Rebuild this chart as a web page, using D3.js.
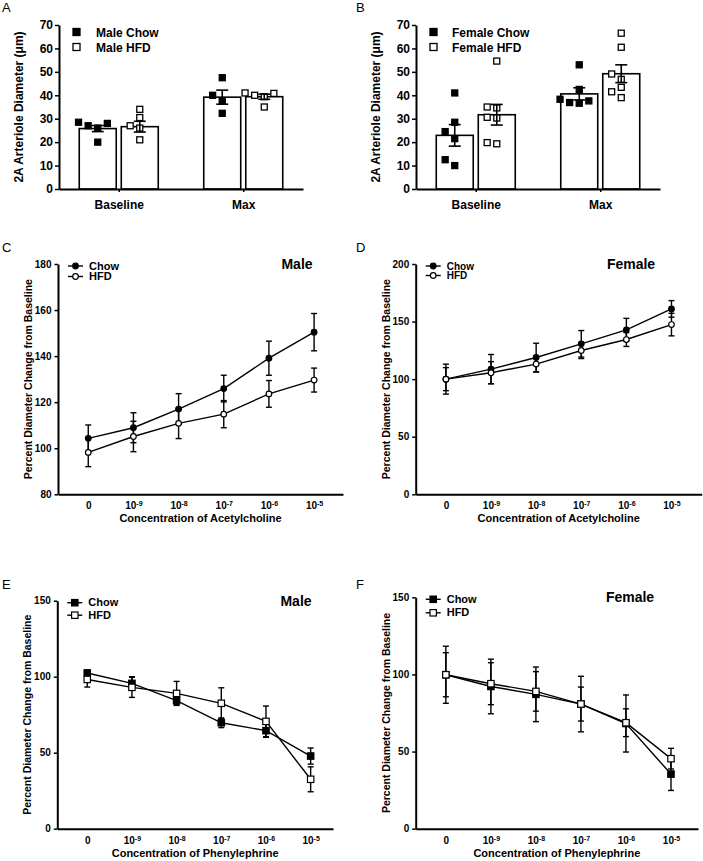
<!DOCTYPE html>
<html>
<head>
<meta charset="utf-8">
<script src="https://cdn.jsdelivr.net/npm/d3@7"></script>
<style>
  body { margin: 0; background: #fff; }
  svg { display: block; font-family: "Liberation Sans", Arial, sans-serif; }
</style>
</head>
<body>
<script>
// ---- bar panels (A, B) ----
const groups = ["Baseline", "Max"];

const maleChowPts = [[28.5, 27, 28, 20, 26], [47.5, 40, 37.7, 32.3]];
const maleChowMean = [25.8, 39.2];
const maleChowSem = [1.3, 3.0];
const maleHfdPts = [[34, 30.5, 27, 26, 21], [41, 40, 40.8, 39.4, 35]];
const maleHfdMean = [26.6, 39.4];
const maleHfdSem = [2.3, 1.1];

const femaleChowPts = [[41, 28.5, 24.5, 21.5, 12.5, 10], [53, 42.5, 36.6, 38.3, 36.9, 37.6]];
const femaleChowMean = [22.9, 40.6];
const femaleChowSem = [4.6, 2.6];
const femaleHfdPts = [[54.6, 34.6, 35, 30.3, 30.6, 19.3, 19.8], [66.5, 60.5, 49.1, 46.8, 43.4, 41.5, 39]];
const femaleHfdMean = [31.7, 49.2];
const femaleHfdSem = [4.4, 3.8];

// ---- concentration-response panels (C-F) ----
const concExp = [null, -9, -8, -7, -6, -5];

const achMaleChow = [104.3, 108.9, 117, 125.9, 139.1, 150.4];
const achMaleChowSem = [5.8, 6.5, 6.7, 5.8, 7.4, 8.1];
const achMaleHfd = [98.2, 105.1, 110.8, 114.8, 123.6, 129.6];
const achMaleHfdSem = [6.2, 6.6, 6.6, 5.9, 5.8, 5.2];

const achFemaleChow = [100, 108.7, 118.8, 130.7, 142.8, 161];
const achFemaleChowSem = [10, 12.7, 12.4, 11.5, 10, 7.2];
const achFemaleHfd = [100, 105.6, 113.1, 124.9, 134.4, 147.4];
const achFemaleHfdSem = [13, 9.6, 7, 7, 6, 9.8];

const peMaleChow = [102.4, 95.6, 84.2, 69.7, 64.5, 47.8];
const peMaleChowSem = [2, 4.4, 2.5, 3.2, 4.4, 5.3];
const peMaleHfd = [98.2, 93, 89, 82.5, 70.6, 32.5];
const peMaleHfdSem = [5, 6.6, 7.9, 10.2, 10.1, 8.2];

const peFemaleChow = [99.8, 92.2, 87.1, 80.8, 68.2, 35.4];
const peFemaleChowSem = [18.5, 17.7, 17.7, 18, 18.5, 10.6];
const peFemaleHfd = [99.8, 94, 89, 80.8, 68.7, 45.4];
const peFemaleHfdSem = [14.3, 13.6, 12.8, 11, 9, 6.7];

const W = 703, H = 861;
const svg = d3.select("body").append("svg")
    .attr("width", W)
    .attr("height", H);

function letter(t, x, y) {
  svg.append("text")
      .attr("x", x).attr("y", y)
      .attr("font-size", 13)
      .text(t);
}

function styleAxis(g, fs) {
  g.select(".domain").attr("stroke-width", 2).attr("stroke", "#000");
  g.selectAll(".tick line").attr("stroke-width", 1.5);
  g.selectAll("text")
      .attr("font-size", fs)
      .attr("font-weight", "bold")
      .attr("fill", "#000")
      .attr("font-family", "Liberation Sans, Arial, sans-serif");
}

// spread points sideways so squares don't overlap (simple beeswarm)
function swarm(vals, y, size) {
  const placed = [];
  const order = vals.map((v, i) => i).sort((a, b) => vals[a] - vals[b]);
  const out = new Array(vals.length);
  order.forEach(i => {
    const py = y(vals[i]);
    const cands = [0, -1, 1, -2, 2, -3, 3].map(k => k * size * 1.6);
    let dx = cands.find(c => placed.every(p => Math.abs(p.x - c) > size * 1.3 || Math.abs(p.y - py) > size * 1.3));
    if (dx === undefined) dx = 0;
    placed.push({x: dx, y: py});
    out[i] = dx;
  });
  return out;
}

function barPanel(cfg) {
  const y = d3.scaleLinear().domain([0, 70]).range([cfg.yBot, cfg.yTop]);
  const x = d3.scalePoint().domain(groups).range([cfg.x0, cfg.x1]).padding(0.48);
  const sub = d3.scaleBand().domain(["Chow", "HFD"]).range([-39.5, 39.5]).paddingInner(0.12);
  const g = svg.append("g");

  const series = [
    {key: "Chow", pts: cfg.chowPts, mean: cfg.chowMean, sem: cfg.chowSem, fill: "#000"},
    {key: "HFD", pts: cfg.hfdPts, mean: cfg.hfdMean, sem: cfg.hfdSem, fill: "#fff"}
  ];

  series.forEach(s => {
    groups.forEach((grp, gi) => {
      const left = x(grp) + sub(s.key);
      const cx = left + sub.bandwidth() / 2;
      g.append("rect")
          .attr("x", left)
          .attr("y", y(s.mean[gi]))
          .attr("width", sub.bandwidth())
          .attr("height", y(0) - y(s.mean[gi]))
          .attr("fill", "#fff")
          .attr("stroke", "#000")
          .attr("stroke-width", 1.6);
      const m = 6;
      const offs = swarm(s.pts[gi], y, m);
      g.selectAll(null)
        .data(s.pts[gi])
        .join("rect")
          .attr("x", (d, i) => cx + offs[i] - m / 2)
          .attr("y", d => y(d) - m / 2)
          .attr("width", m).attr("height", m)
          .attr("fill", s.fill)
          .attr("stroke", "#000")
          .attr("stroke-width", 1.3);
      const lo = s.mean[gi] - s.sem[gi], hi = s.mean[gi] + s.sem[gi];
      g.append("line")
          .attr("x1", cx).attr("x2", cx)
          .attr("y1", y(lo)).attr("y2", y(hi))
          .attr("stroke", "#000").attr("stroke-width", 1.6);
      [lo, hi].forEach(v => g.append("line")
          .attr("x1", cx - 6).attr("x2", cx + 6)
          .attr("y1", y(v)).attr("y2", y(v))
          .attr("stroke", "#000").attr("stroke-width", 1.6));
    });
  });

  const ya = g.append("g")
      .attr("transform", `translate(${cfg.x0},0)`)
      .call(d3.axisLeft(y).tickValues(d3.range(0, 71, 10)).tickSize(4).tickSizeOuter(0).tickPadding(2));
  styleAxis(ya, 12);

  const xa = g.append("g")
      .attr("transform", `translate(0,${cfg.yBot})`)
      .call(d3.axisBottom(d3.scaleLinear().domain([cfg.x0, cfg.x1]).range([cfg.x0, cfg.x1]))
        .tickValues(groups.map(x)).tickFormat((d, i) => groups[i]).tickSize(3).tickSizeOuter(0).tickPadding(8));
  styleAxis(xa, 12);

  g.append("text")
      .attr("transform", `translate(${cfg.x0 - 36},${(cfg.yTop + cfg.yBot) / 2}) rotate(-90)`)
      .attr("text-anchor", "middle")
      .attr("font-size", 12)
      .attr("font-weight", "bold")
      .text("2A Arteriole Diameter (μm)");

  // legend
  [[cfg.legend[0], "#000"], [cfg.legend[1], "#fff"]].forEach(([label, fill], i) => {
    const ly = cfg.yTop + 7 + i * 15;
    g.append("rect")
        .attr("x", cfg.x0 + 14).attr("y", ly - 3.5)
        .attr("width", 7).attr("height", 7)
        .attr("fill", fill).attr("stroke", "#000").attr("stroke-width", 1.3);
    g.append("text")
        .attr("x", cfg.x0 + cfg.legendText).attr("y", ly + 4.5)
        .attr("font-size", 12).attr("font-weight", "bold")
        .text(label);
  });
}

function concTick(sel) {
  sel.selectAll(".tick text").each(function(d) {
    const t = d3.select(this);
    const e = concExp[d];
    t.text(null);
    if (e === null) { t.text("0"); return; }
    t.append("tspan").text("10");
    t.append("tspan").attr("dy", "-0.45em").attr("font-size", 7).text(e);
  });
}

function marker(g, shape, cx, cy, filled) {
  if (shape === "circle") {
    g.append("circle")
        .attr("cx", cx).attr("cy", cy).attr("r", 2.8)
        .attr("fill", filled ? "#000" : "#fff")
        .attr("stroke", "#000").attr("stroke-width", 1.2);
  } else {
    g.append("rect")
        .attr("x", cx - 3.2).attr("y", cy - 3.2)
        .attr("width", 6.4).attr("height", 6.4)
        .attr("fill", filled ? "#000" : "#fff")
        .attr("stroke", "#000").attr("stroke-width", 1.2);
  }
}

function linePanel(cfg) {
  const x = d3.scaleLinear().domain([-0.67, cfg.xEnd]).range([cfg.x0, cfg.x1]);
  const y = d3.scaleLinear().domain(cfg.yDomain).range([cfg.yBot, cfg.yTop]);
  const g = svg.append("g");
  const idx = d3.range(concExp.length);

  const series = [
    {mean: cfg.chow, sem: cfg.chowSem, filled: true},
    {mean: cfg.hfd, sem: cfg.hfdSem, filled: false}
  ];

  series.forEach(s => {
    idx.forEach(i => {
      const lo = s.mean[i] - s.sem[i], hi = s.mean[i] + s.sem[i];
      g.append("line")
          .attr("x1", x(i)).attr("x2", x(i))
          .attr("y1", y(lo)).attr("y2", y(hi))
          .attr("stroke", "#000").attr("stroke-width", 1.4);
      [lo, hi].forEach(v => g.append("line")
          .attr("x1", x(i) - 3).attr("x2", x(i) + 3)
          .attr("y1", y(v)).attr("y2", y(v))
          .attr("stroke", "#000").attr("stroke-width", 1.4));
    });
  });
  series.forEach(s => {
    g.append("path")
        .datum(s.mean)
        .attr("fill", "none")
        .attr("stroke", "#000")
        .attr("stroke-width", 1.4)
        .attr("d", d3.line().x((d, i) => x(i)).y(d => y(d)));
  });
  series.forEach(s => idx.forEach(i => marker(g, cfg.shape, x(i), y(s.mean[i]), s.filled)));

  const ya = g.append("g")
      .attr("transform", `translate(${cfg.x0},0)`)
      .call(d3.axisLeft(y).tickValues(cfg.yTicks).tickSize(3.5).tickSizeOuter(0).tickPadding(3));
  styleAxis(ya, 10);

  const xa = g.append("g")
      .attr("transform", `translate(0,${cfg.yBot})`)
      .call(d3.axisBottom(x).tickValues(idx).tickSize(0).tickSizeOuter(0).tickPadding(8));
  styleAxis(xa, 10);
  xa.call(concTick);

  g.append("text")
      .attr("x", (cfg.x0 + cfg.x1) / 2 - 0)
      .attr("y", cfg.yBot + 28)
      .attr("text-anchor", "middle")
      .attr("font-size", 11).attr("font-weight", "bold")
      .text(cfg.xTitle);

  g.append("text")
      .attr("transform", `translate(${cfg.x0 - 26},${(cfg.yTop + cfg.yBot) / 2}) rotate(-90)`)
      .attr("text-anchor", "middle")
      .attr("font-size", 10.5).attr("font-weight", "bold")
      .text("Percent Diameter Change from Baseline");

  g.append("text")
      .attr("x", cfg.titleX).attr("y", cfg.yTop + 5)
      .attr("text-anchor", "middle")
      .attr("font-size", 14).attr("font-weight", "bold")
      .text(cfg.title);

  [["Chow", true], ["HFD", false]].forEach(([label, filled], i) => {
    const ly = cfg.yTop + 2 + i * cfg.legendGap;
    const lx = cfg.x0 + 10;
    g.append("line")
        .attr("x1", lx).attr("x2", lx + 15)
        .attr("y1", ly).attr("y2", ly)
        .attr("stroke", "#000").attr("stroke-width", 1.4);
    marker(g, cfg.shape, lx + 7.5, ly, filled);
    g.append("text")
        .attr("x", lx + 21).attr("y", ly + 3.5)
        .attr("font-size", cfg.legendFont).attr("font-weight", "bold")
        .text(label);
  });
}

letter("A", 2, 12);
letter("B", 356, 12);
letter("C", 2, 252);
letter("D", 356, 252);
letter("E", 2, 589);
letter("F", 356, 589);

barPanel({x0: 59, x1: 303, yTop: 25, yBot: 189,
  chowPts: maleChowPts, chowMean: maleChowMean, chowSem: maleChowSem,
  hfdPts: maleHfdPts, hfdMean: maleHfdMean, hfdSem: maleHfdSem,
  legend: ["Male Chow", "Male HFD"], legendText: 37});

barPanel({x0: 416, x1: 660, yTop: 25, yBot: 189,
  chowPts: femaleChowPts, chowMean: femaleChowMean, chowSem: femaleChowSem,
  hfdPts: femaleHfdPts, hfdMean: femaleHfdMean, hfdSem: femaleHfdSem,
  legend: ["Female Chow", "Female HFD"], legendText: 36});

linePanel({x0: 58, x1: 343, xEnd: 5.64, yTop: 264, yBot: 494.3,
  yDomain: [80, 180], yTicks: d3.range(80, 181, 20), shape: "circle",
  chow: achMaleChow, chowSem: achMaleChowSem, hfd: achMaleHfd, hfdSem: achMaleHfdSem,
  title: "Male", titleX: 297, xTitle: "Concentration of Acetylcholine", legendGap: 10.5, legendFont: 11});

linePanel({x0: 415.7, x1: 701.7, xEnd: 5.67, yTop: 264, yBot: 494.3,
  yDomain: [0, 200], yTicks: d3.range(0, 201, 50), shape: "circle",
  chow: achFemaleChow, chowSem: achFemaleChowSem, hfd: achFemaleHfd, hfdSem: achFemaleHfdSem,
  title: "Female", titleX: 631, xTitle: "Concentration of Acetylcholine", legendGap: 9.5, legendFont: 10});

linePanel({x0: 57.3, x1: 333, xEnd: 5.5, yTop: 600.7, yBot: 828.7,
  yDomain: [0, 150], yTicks: d3.range(0, 151, 50), shape: "square",
  chow: peMaleChow, chowSem: peMaleChowSem, hfd: peMaleHfd, hfdSem: peMaleHfdSem,
  title: "Male", titleX: 296, xTitle: "Concentration of Phenylephrine", legendGap: 12.5, legendFont: 11});

linePanel({x0: 415.7, x1: 698, xEnd: 5.6, yTop: 597.3, yBot: 828.7,
  yDomain: [0, 150], yTicks: d3.range(0, 151, 50), shape: "square",
  chow: peFemaleChow, chowSem: peFemaleChowSem, hfd: peFemaleHfd, hfdSem: peFemaleHfdSem,
  title: "Female", titleX: 630, xTitle: "Concentration of Phenylephrine", legendGap: 13.5, legendFont: 11});
</script>
</body>
</html>
